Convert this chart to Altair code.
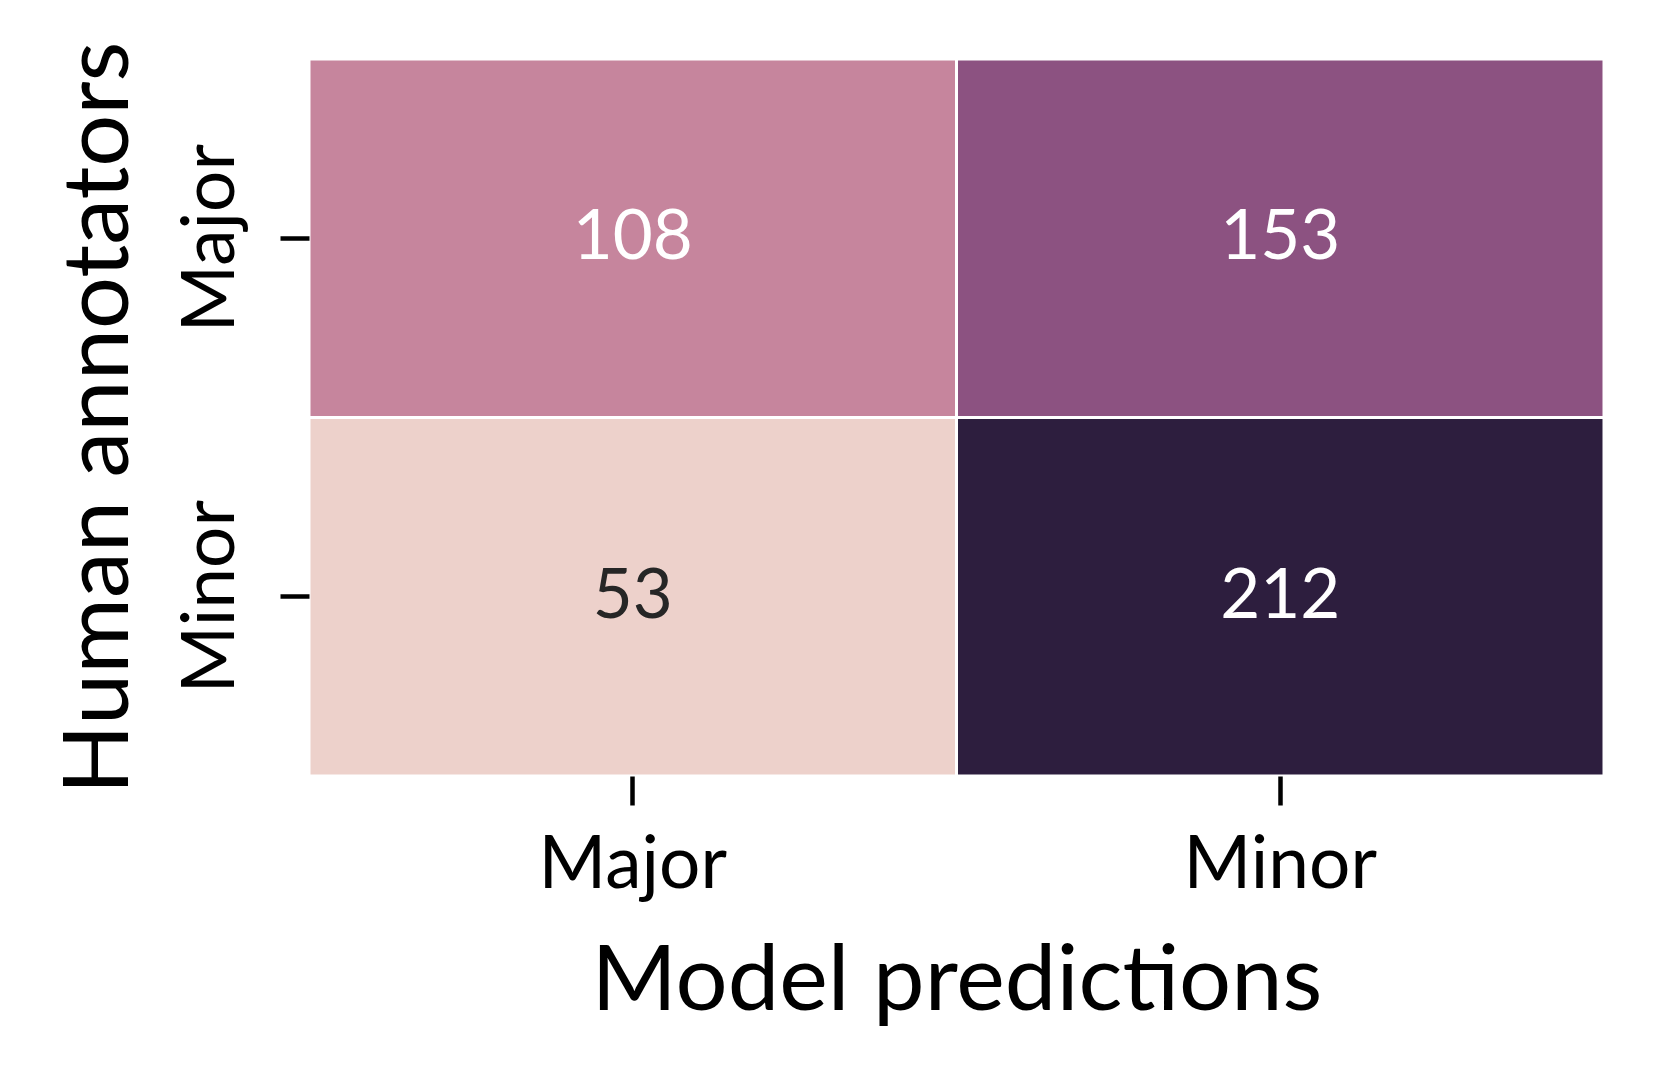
import altair as alt
import pandas as pd
import numpy as np

# --- data ---
predictions = ["Major", "Minor", "Major", "Minor"]
annotators = ["Major", "Major", "Minor", "Minor"]
counts = [108, 153, 53, 212]
x_order = ["Major", "Minor"]
y_order = ["Major", "Minor"]

df = pd.DataFrame({"pred": predictions, "human": annotators, "count": counts})

# --- seaborn default cubehelix_palette colormap (light -> dark) ---
def cubehelix(x, start=0.0, rot=0.4, gamma=1.0, hue=0.8):
    xg = x ** gamma
    a = hue * xg * (1 - xg) / 2
    phi = 2 * np.pi * (start / 3 + rot * x)
    r = xg + a * (-0.14861 * np.cos(phi) + 1.78277 * np.sin(phi))
    g = xg + a * (-0.29227 * np.cos(phi) - 0.90649 * np.sin(phi))
    b = xg + a * (1.97294 * np.cos(phi))
    return [min(max(v, 0), 1) for v in (r, g, b)]

n_stops = 11
stops = []
for t in np.linspace(0, 1, n_stops):
    r, g, b = cubehelix(0.85 + (0.15 - 0.85) * t)
    stops.append("#%02x%02x%02x" % (int(round(r * 255)), int(round(g * 255)), int(round(b * 255))))
vmin, vmax = min(counts), max(counts)
dom = list(np.linspace(vmin, vmax, n_stops))

FONT = "Lato"
W, H = 1295, 717
LABEL_SIZE = 73
TITLE_SIZE = 92
NUM_SIZE = 69

base = alt.Chart(df).encode(
    x=alt.X("pred:N", sort=x_order, title="Model predictions",
            scale=alt.Scale(paddingInner=0, paddingOuter=0),
            axis=alt.Axis(labelAngle=0, labelBaseline="alphabetic", labelPadding=82,
                          labelLimit=0,
                          tickSize=29, tickWidth=4.5, tickColor="black", domain=False,
                          labelFontSize=LABEL_SIZE, labelColor="black", labelFont=FONT,
                          titleFontSize=TITLE_SIZE, titleFont=FONT, titleColor="black",
                          titleFontWeight="normal", titleBaseline="alphabetic", titleY=233,
                          titleLimit=0)),
    y=alt.Y("human:N", sort=y_order, title="Human annotators",
            scale=alt.Scale(paddingInner=0, paddingOuter=0),
            axis=alt.Axis(labelAngle=-90, labelAlign="center", labelBaseline="alphabetic",
                          labelPadding=47, labelLimit=0, tickSize=29, tickWidth=4.5,
                          tickColor="black",
                          domain=False, labelFontSize=LABEL_SIZE, labelColor="black", labelFont=FONT,
                          titleFontSize=TITLE_SIZE, titleFont=FONT, titleColor="black",
                          titleFontWeight="normal", titleBaseline="alphabetic", titleX=-182,
                          titleAngle=-90, titleLimit=0)),
)

rect = base.mark_rect(stroke="white", strokeWidth=3).encode(
    color=alt.Color("count:Q", scale=alt.Scale(domain=dom, range=stops, interpolate="rgb"),
                    legend=None)
)

text = base.mark_text(font=FONT, fontSize=NUM_SIZE, baseline="middle", align="center").encode(
    text="count:Q",
    color=alt.condition(alt.datum["count"] > 80, alt.value("white"), alt.value("#262626")),
)

chart = (rect + text).properties(
    width=W, height=H,
    autosize=alt.AutoSizeParams(type="none"),
    padding={"left": 301, "top": 51, "right": 50, "bottom": 290},
).configure_view(stroke=None).configure_axis(grid=False)

chart.save("out.html", embed_options={"renderer": "svg", "actions": False})
